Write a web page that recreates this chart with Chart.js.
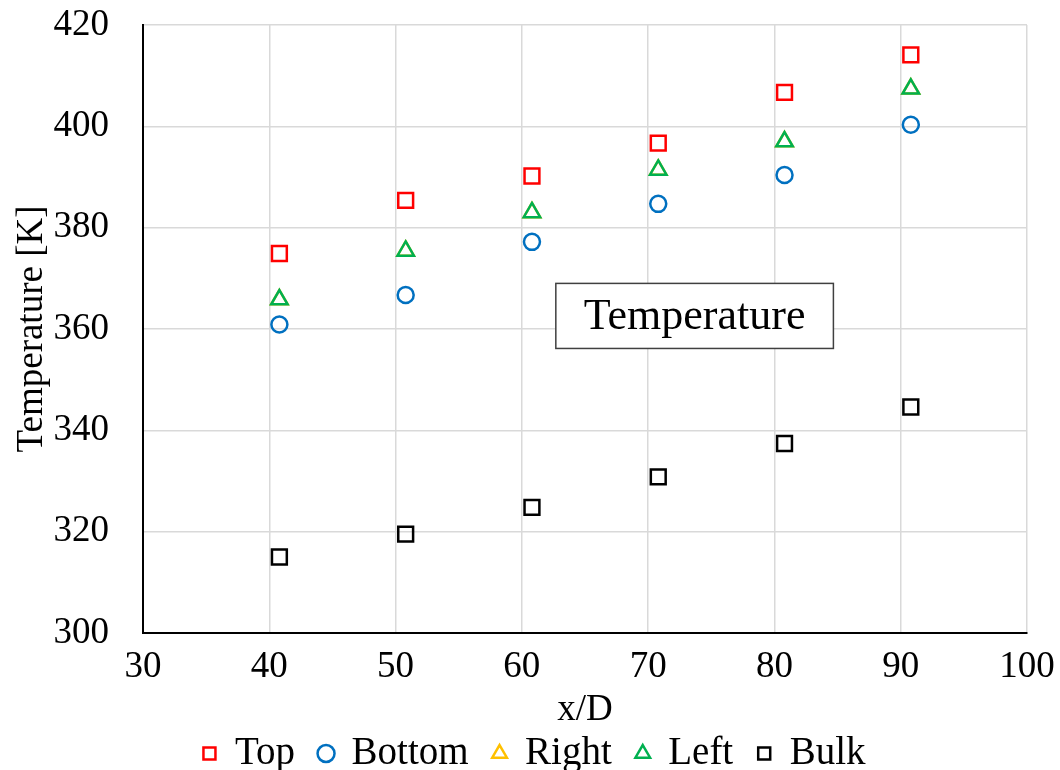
<!DOCTYPE html>
<html>
<head>
<meta charset="utf-8">
<script src="https://cdn.jsdelivr.net/npm/chart.js@4/dist/chart.umd.min.js"></script>
<style>
  html, body { margin: 0; padding: 0; background: #fff; }
  #wrap { width: 1060px; height: 770px; }
</style>
</head>
<body>
<div id="wrap"><canvas id="chart" width="1060" height="770"></canvas></div>
<script>
// x/D positions and wall temperatures [K]
const xPos = [40.8, 50.8, 60.8, 70.8, 80.8, 90.8];
const topT = [374.9, 385.4, 390.2, 396.7, 406.7, 414.1];
const bottomT = [360.9, 366.7, 377.2, 384.7, 390.4, 400.3];
const rightT = [365.8, 375.4, 383.0, 391.4, 397.0, 407.4];
const leftT = [365.8, 375.4, 383.0, 391.4, 397.0, 407.4];
const bulkT = [315.0, 319.5, 324.8, 330.8, 337.4, 344.6];

const xTicks = [30, 40, 50, 60, 70, 80, 90, 100];
const yTicks = [300, 320, 340, 360, 380, 400, 420];

const FONT = "'Liberation Serif', 'Times New Roman', serif";

function pts(ys) {
  return xPos.map((x, i) => ({ x: x, y: ys[i] }));
}

function series(label, ys, color, style, radius, order) {
  return {
    label: label,
    data: pts(ys),
    pointStyle: style,
    pointRadius: radius,
    pointHoverRadius: radius,
    pointBorderWidth: 2.5,
    pointBorderColor: color,
    pointBackgroundColor: 'rgba(0,0,0,0)',
    borderColor: color,
    backgroundColor: 'rgba(0,0,0,0)',
    showLine: false,
    order: order
  };
}

// text box inside the plot
const boxLabel = {
  id: 'boxLabel',
  afterLayout(chart) {
    // legend sits a bit right of the canvas centre in the original
    if (chart.legend) {
      chart.legend.left += 21;
      chart.legend.right += 21;
    }
  },
  afterDraw(chart) {
    const ctx = chart.ctx;
    const a = chart.chartArea;
    const x1 = a.left + (a.right - a.left) * 0.467;
    const x2 = a.left + (a.right - a.left) * 0.781;
    const y1 = a.top + (a.bottom - a.top) * 0.425;
    const y2 = a.top + (a.bottom - a.top) * 0.532;
    ctx.save();
    ctx.fillStyle = '#fff';
    ctx.fillRect(x1, y1, x2 - x1, y2 - y1);
    ctx.strokeStyle = '#404040';
    ctx.lineWidth = 1.5;
    ctx.strokeRect(x1, y1, x2 - x1, y2 - y1);
    ctx.fillStyle = '#000';
    ctx.font = "44px " + FONT;
    ctx.textAlign = 'center';
    ctx.textBaseline = 'middle';
    ctx.fillText('Temperature', (x1 + x2) / 2, (y1 + y2) / 2 + 2);
    ctx.restore();
  }
};

new Chart(document.getElementById('chart'), {
  type: 'scatter',
  data: {
    datasets: [
      series('Top', topT, '#FF0000', 'rect', 10.5, 0),
      series('Bottom', bottomT, '#0070C0', 'circle', 8, 0),
      series('Right', rightT, '#FFC000', 'triangle', 9.5, 2),
      series('Left', leftT, '#00B050', 'triangle', 9.5, 1),
      series('Bulk', bulkT, '#000000', 'rect', 10.5, 0)
    ]
  },
  options: {
    responsive: false,
    animation: false,
    layout: { padding: { top: 25, right: 33, left: 0, bottom: -13 } },
    plugins: {
      tooltip: { enabled: false },
      legend: {
        position: 'bottom',
        labels: {
          usePointStyle: true,
          boxWidth: 12,
          boxHeight: 12,
          padding: 25,
          color: '#000',
          font: { family: FONT, size: 39 },
          sort: (a, b) => a.datasetIndex - b.datasetIndex
        }
      }
    },
    scales: {
      x: {
        type: 'linear',
        min: 30,
        max: 100,
        afterBuildTicks: (s) => { s.ticks = xTicks.map(v => ({ value: v })); },
        afterFit: (s) => { s.height = 76; s.paddingLeft = 0; s.paddingRight = 0; },
        ticks: {
          color: '#000',
          padding: 12,
          font: { family: FONT, size: 37 }
        },
        grid: { color: '#D9D9D9', lineWidth: 1.5, drawTicks: false },
        border: { color: '#000', width: 2 },
        title: {
          display: true,
          text: 'x/D',
          color: '#000',
          padding: { top: 0, bottom: -23 },
          font: { family: FONT, size: 37 }
        }
      },
      y: {
        min: 300,
        max: 420,
        afterBuildTicks: (s) => { s.ticks = yTicks.map(v => ({ value: v })); },
        afterFit: (s) => { s.width = 143; s.paddingTop = 0; s.paddingBottom = 0; },
        ticks: {
          color: '#000',
          padding: 34,
          font: { family: FONT, size: 37 }
        },
        grid: { color: '#D9D9D9', lineWidth: 1.5, drawTicks: false },
        border: { color: '#000', width: 2 },
        title: {
          display: true,
          text: 'Temperature [K]',
          color: '#000',
          padding: { top: 10, bottom: 0 },
          font: { family: FONT, size: 37 }
        }
      }
    }
  },
  plugins: [boxLabel]
});
</script>
</body>
</html>
